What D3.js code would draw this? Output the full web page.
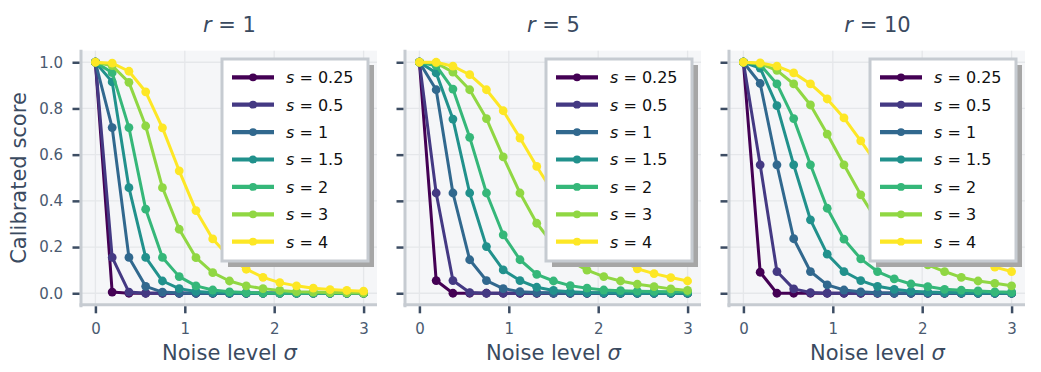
<!DOCTYPE html>
<html>
<head>
<meta charset="utf-8">
<script src="https://cdn.jsdelivr.net/npm/d3@7"></script>
<style>
  body { margin: 0; background: #fff; }
  svg { display: block; font-family: "DejaVu Sans", sans-serif; }
</style>
</head>
<body>
<svg id="chart" width="1041" height="372"></svg>
<script>
// noise levels (x axis)
var sigmas = [0, 0.1875, 0.375, 0.5625, 0.75, 0.9375, 1.125, 1.3125, 1.5, 1.6875, 1.875, 2.0625, 2.25, 2.4375, 2.625, 2.8125, 3];
var sValues = ["0.25", "0.5", "1", "1.5", "2", "3", "4"];
var rValues = [1, 5, 10];
var xTicks = [0, 1, 2, 3];
var yTicks = [0, 0.2, 0.4, 0.6, 0.8, 1.0];

// calibrated scores, one row per s
var scoresR1 = [
  [1, 0.005, 0, 0, 0, 0, 0, 0, 0, 0, 0, 0, 0, 0, 0, 0, 0],
  [1, 0.155, 0.005, 0, 0, 0, 0, 0, 0, 0, 0, 0, 0, 0, 0, 0, 0],
  [1, 0.717, 0.155, 0.03, 0.005, 0.001, 0, 0, 0, 0, 0, 0, 0, 0, 0, 0, 0],
  [1, 0.915, 0.457, 0.155, 0.053, 0.02, 0.008, 0.003, 0.001, 0, 0, 0, 0, 0, 0, 0, 0],
  [1, 0.955, 0.717, 0.364, 0.155, 0.072, 0.032, 0.014, 0.006, 0.003, 0.001, 0, 0, 0, 0, 0, 0],
  [1, 0.985, 0.913, 0.724, 0.457, 0.277, 0.154, 0.089, 0.053, 0.032, 0.02, 0.012, 0.007, 0.005, 0.003, 0.002, 0.001],
  [1, 0.996, 0.961, 0.872, 0.716, 0.53, 0.358, 0.235, 0.156, 0.104, 0.069, 0.046, 0.032, 0.022, 0.016, 0.012, 0.009]
];
var scoresR5 = [
  [1, 0.055, 0, 0, 0, 0, 0, 0, 0, 0, 0, 0, 0, 0, 0, 0, 0],
  [1, 0.434, 0.055, 0.003, 0, 0, 0, 0, 0, 0, 0, 0, 0, 0, 0, 0, 0],
  [1, 0.881, 0.434, 0.145, 0.055, 0.02, 0.007, 0.003, 0.001, 0, 0, 0, 0, 0, 0, 0, 0],
  [1, 0.954, 0.754, 0.434, 0.202, 0.101, 0.055, 0.026, 0.012, 0.006, 0.003, 0.002, 0.001, 0, 0, 0, 0],
  [1, 0.985, 0.884, 0.675, 0.434, 0.253, 0.145, 0.082, 0.053, 0.033, 0.022, 0.014, 0.011, 0.009, 0.008, 0.007, 0.006],
  [1, 0.997, 0.957, 0.881, 0.756, 0.59, 0.434, 0.303, 0.21, 0.14, 0.1, 0.072, 0.053, 0.039, 0.029, 0.019, 0.012],
  [1, 1.0, 0.983, 0.946, 0.881, 0.79, 0.672, 0.549, 0.434, 0.34, 0.253, 0.195, 0.145, 0.106, 0.085, 0.068, 0.053]
];
var scoresR10 = [
  [1, 0.091, 0, 0, 0, 0, 0, 0, 0, 0, 0, 0, 0, 0, 0, 0, 0],
  [1, 0.556, 0.094, 0.019, 0.003, 0, 0, 0, 0, 0, 0, 0, 0, 0, 0, 0, 0],
  [1, 0.908, 0.556, 0.236, 0.094, 0.036, 0.014, 0.006, 0.002, 0.001, 0, 0, 0, 0, 0, 0, 0],
  [1, 0.975, 0.812, 0.556, 0.318, 0.169, 0.094, 0.055, 0.03, 0.017, 0.009, 0.005, 0.003, 0.002, 0.001, 0.001, 0],
  [1, 0.99, 0.906, 0.756, 0.556, 0.368, 0.234, 0.149, 0.094, 0.062, 0.04, 0.029, 0.017, 0.013, 0.01, 0.006, 0.004],
  [1, 0.994, 0.965, 0.906, 0.815, 0.689, 0.556, 0.426, 0.31, 0.234, 0.17, 0.123, 0.094, 0.069, 0.053, 0.043, 0.032],
  [1, 0.997, 0.983, 0.954, 0.906, 0.841, 0.759, 0.66, 0.556, 0.46, 0.368, 0.3, 0.234, 0.19, 0.149, 0.113, 0.094]
];
var allScores = [scoresR1, scoresR5, scoresR10];

var svg = d3.select("#chart");
var textCol = "#3a4a5f", tickCol = "#3d4d63", spineCol = "#c6cbd1";

var panelW = 295, panelH = 254.1, plotTop = 50.7, step = 324;

function color(i){
  return d3.interpolateViridis(i / (sValues.length - 1));
}

rValues.forEach(function(r, p){
  var left = 82 + p * step;
  var x = d3.scaleLinear().domain([-0.15, 3.15]).range([0, panelW]);
  var y = d3.scaleLinear().domain([-0.05, 1.05]).range([panelH, 0]);

  var g = svg.append("g").attr("transform", "translate(" + left + "," + plotTop + ")");

  g.append("rect").attr("width", panelW).attr("height", panelH).attr("fill", "#f5f6f8");

  // grid
  g.selectAll(".vg").data(xTicks).enter().append("line")
    .attr("x1", function(d){ return x(d); }).attr("x2", function(d){ return x(d); })
    .attr("y1", 0).attr("y2", panelH)
    .attr("stroke", "#e5e7ea").attr("stroke-width", 1.3);
  g.selectAll(".hg").data(yTicks).enter().append("line")
    .attr("y1", function(d){ return y(d); }).attr("y2", function(d){ return y(d); })
    .attr("x1", 0).attr("x2", panelW)
    .attr("stroke", "#e5e7ea").attr("stroke-width", 1.3);

  // spines
  g.append("line").attr("x1", -1).attr("x2", -1).attr("y1", -1).attr("y2", panelH + 2.5)
    .attr("stroke", spineCol).attr("stroke-width", 3);
  g.append("line").attr("x1", -2.5).attr("x2", panelW).attr("y1", panelH).attr("y2", panelH)
    .attr("stroke", spineCol).attr("stroke-width", 3);

  // axes
  var yAxis = d3.axisLeft(y).tickValues(yTicks).tickSize(7).tickPadding(9.5)
    .tickFormat(p === 0 ? d3.format(".1f") : function(){ return ""; });
  var ya = g.append("g").attr("transform", "translate(-2.5,0)").call(yAxis);
  var xAxis = d3.axisBottom(x).tickValues(xTicks).tickSize(7).tickPadding(10.5).tickFormat(d3.format("d"));
  var xa = g.append("g").attr("transform", "translate(0," + (panelH + 1.5) + ")").call(xAxis);
  [ya, xa].forEach(function(a){
    a.select(".domain").remove();
    a.selectAll("line").attr("stroke", tickCol).attr("stroke-width", 2.5);
    a.selectAll("text").attr("fill", "#4a5a70").attr("font-size", 15).attr("font-family", "DejaVu Sans");
  });

  // title
  var t = g.append("text").attr("x", panelW / 2).attr("y", 32 - plotTop)
    .attr("text-anchor", "middle").attr("font-size", 21).attr("fill", textCol);
  t.append("tspan").attr("font-style", "italic").text("r");
  t.append("tspan").text(" = " + r);

  // x label
  var xl = g.append("text").attr("x", panelW / 2).attr("y", 360.5 - plotTop)
    .attr("text-anchor", "middle").attr("font-size", 21).attr("fill", textCol);
  xl.append("tspan").text("Noise level ");
  xl.append("tspan").attr("font-style", "italic").text("σ");

  if (p === 0) {
    g.append("text").attr("transform", "translate(" + (26 - left) + "," + (178 - plotTop) + ") rotate(-90)")
      .attr("text-anchor", "middle").attr("font-size", 21).attr("fill", textCol)
      .text("Calibrated score");
  }

  // series
  var line = d3.line().x(function(d){ return x(d[0]); }).y(function(d){ return y(d[1]); });
  allScores[p].forEach(function(vals, i){
    var pts = sigmas.map(function(s, k){ return [s, vals[k]]; });
    var sg = g.append("g");
    sg.append("path").datum(pts).attr("d", line)
      .attr("fill", "none").attr("stroke", color(i)).attr("stroke-width", 3)
      .attr("stroke-linejoin", "round");
    sg.selectAll("circle").data(pts).enter().append("circle")
      .attr("cx", function(d){ return x(d[0]); })
      .attr("cy", function(d){ return y(d[1]); })
      .attr("r", 4.4).attr("fill", color(i));
  });

  // legend
  var lw = 146, lh = 202;
  var lx = panelW - 9 - lw, ly = 59 - plotTop;
  var lg = g.append("g").attr("transform", "translate(" + lx + "," + ly + ")");
  lg.append("rect").attr("x", 6).attr("y", 6).attr("width", lw).attr("height", lh).attr("fill", "#a6a6a6");
  lg.append("rect").attr("x", 0).attr("y", 0).attr("width", lw).attr("height", lh)
    .attr("fill", "#fff").attr("stroke", spineCol).attr("stroke-width", 3);
  sValues.forEach(function(s, i){
    var yy = 18.3 + i * 27.4;
    lg.append("line").attr("x1", 10).attr("x2", 52).attr("y1", yy).attr("y2", yy)
      .attr("stroke", color(i)).attr("stroke-width", 4.2);
    lg.append("circle").attr("cx", 31).attr("cy", yy).attr("r", 3.9).attr("fill", color(i));
    var tx = lg.append("text").attr("x", 64).attr("y", yy + 5.8)
      .attr("font-size", 16).attr("fill", "#111");
    tx.append("tspan").attr("font-style", "italic").text("s");
    tx.append("tspan").text(" = " + s);
  });
});
</script>
</body>
</html>
